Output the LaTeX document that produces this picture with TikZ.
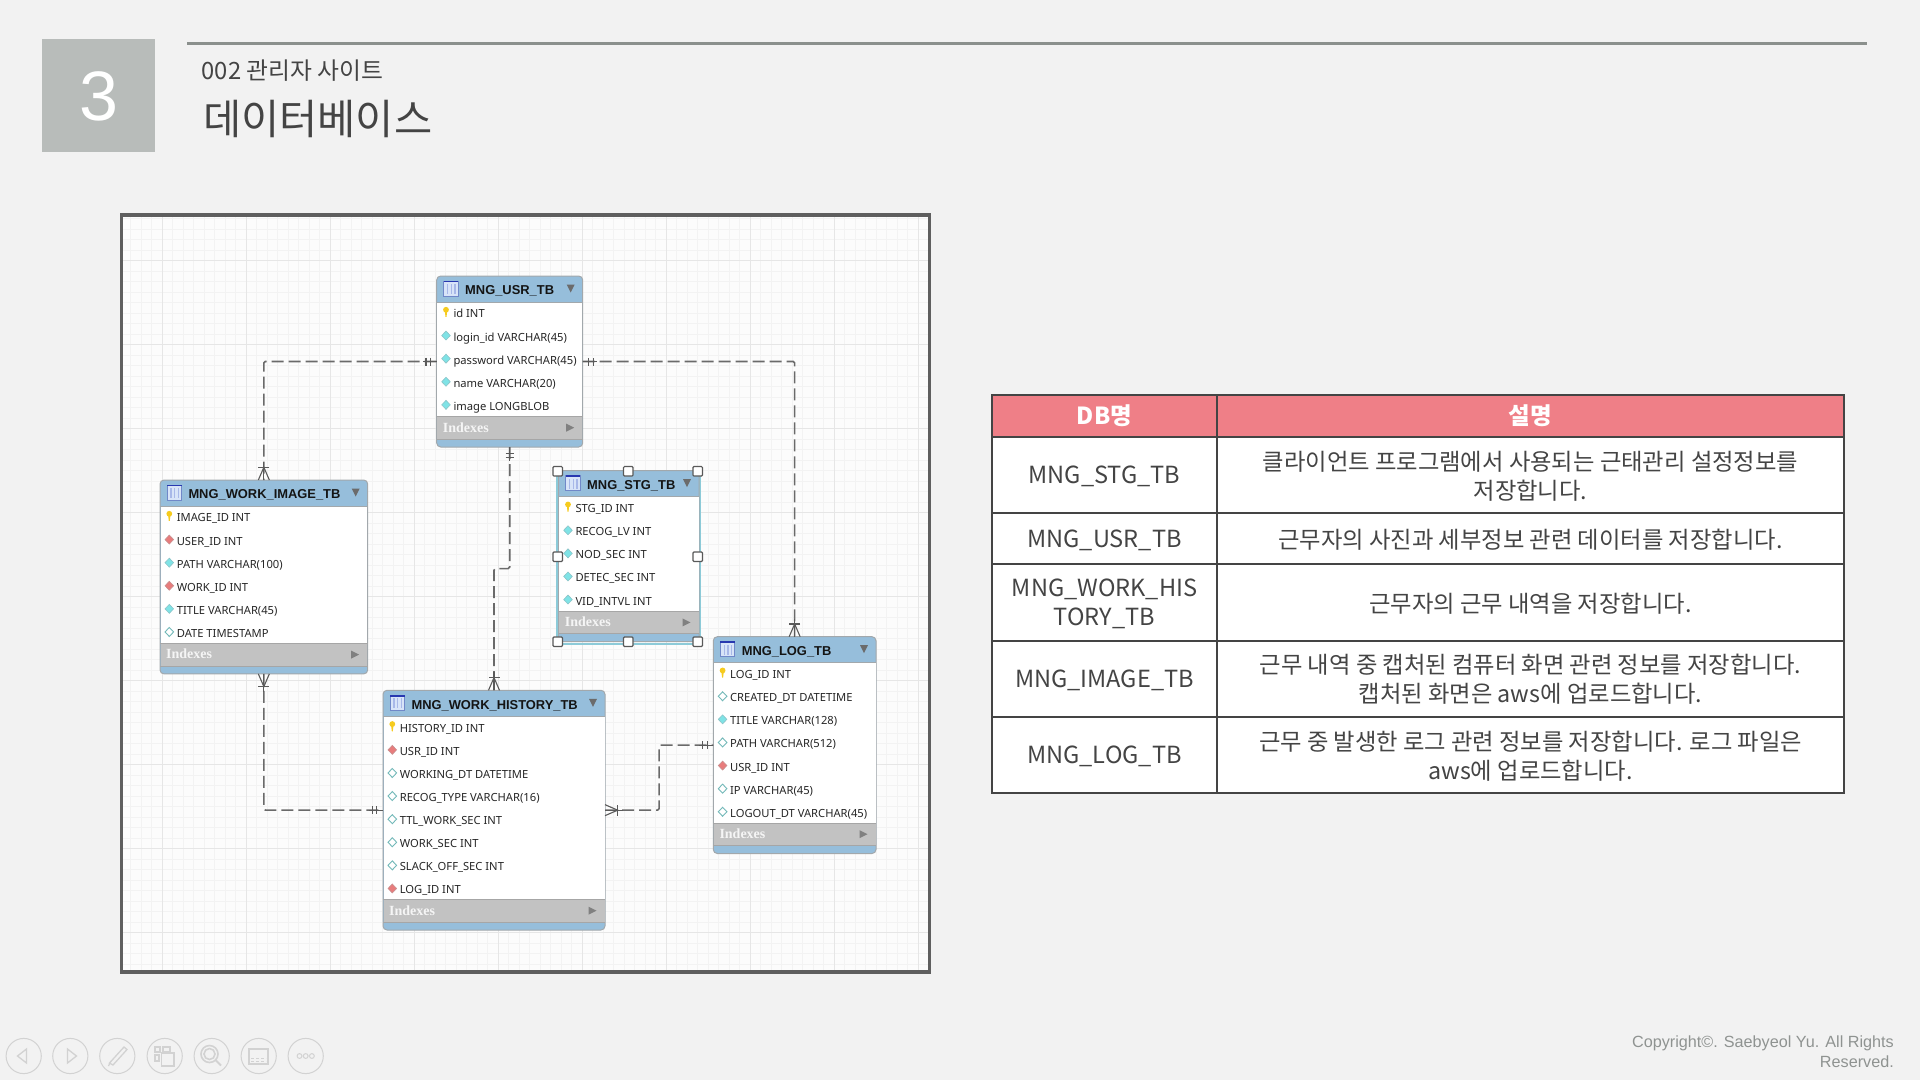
\documentclass[tikz,border=0pt]{standalone}
\usepackage{fontspec}
\setmainfont{Liberation Sans}
\newfontfamily\krf{Noto Sans CJK KR}
\newfontfamily\erf{Noto Sans}
\newfontfamily\idxf{Liberation Serif}
\usetikzlibrary{calc}
\definecolor{pagebg}{HTML}{F2F2F2}
\definecolor{boxgray}{HTML}{B8BCBA}
\definecolor{rulegray}{HTML}{8B908D}
\definecolor{inktext}{HTML}{444444}
\definecolor{framecol}{HTML}{5F5F5F}
\definecolor{gridmaj}{HTML}{E6E6E6}
\definecolor{gridmin}{HTML}{F3F3F3}
\definecolor{canvasbg}{HTML}{FCFCFC}
\definecolor{erblue}{HTML}{96BEDB}
\definecolor{erborder}{HTML}{A2A8AC}
\definecolor{idxgray}{HTML}{C2C2C2}
\definecolor{connector}{HTML}{6A6A6A}
\definecolor{hdrpink}{HTML}{EF7F87}
\definecolor{tblline}{HTML}{444444}
\definecolor{navgray}{HTML}{D2D2D2}
\definecolor{copygray}{HTML}{8F9391}
\definecolor{selcyan}{HTML}{8CCAD8}
\definecolor{dcyan}{HTML}{7FE3E6}
\definecolor{dcyanedge}{HTML}{8CC4C8}
\definecolor{dred}{HTML}{E87C7C}
\definecolor{drededge}{HTML}{C89090}
\definecolor{keygold}{HTML}{F6CB1E}
\definecolor{iconfill}{HTML}{D8E4F8}
\definecolor{iconstripe}{HTML}{A8B8E8}
\definecolor{iconedge}{HTML}{7088C8}
\definecolor{icontop}{HTML}{2838B0}
\tikzset{
  tablebox/.style={draw=erborder,line width=1pt,fill=erblue,rounded corners=4pt,inner sep=0pt,outer sep=0pt},
  rowtext/.style={anchor=base west,inner sep=0pt,font=\erf\fontsize{11.2}{13}\selectfont,text=black!85},
  titletext/.style={anchor=base west,inner sep=0pt,font=\bfseries\fontsize{12.9}{15}\selectfont,text=black!92},
  idxtext/.style={anchor=base west,inner sep=0pt,font=\idxf\bfseries\fontsize{14}{16}\selectfont,text=white!96!black},
  relation/.style={draw=connector,line width=1.6pt,dash pattern=on 12pt off 5pt,rounded corners=1.5pt},
  notation/.style={draw=connector!85!black,line width=1.1pt},
  handlebox/.style={draw=black!65,line width=1.2pt,fill=white,rounded corners=1pt,minimum size=9.5pt,inner sep=0pt},
  hcell/.style={fill=hdrpink,draw=tblline,line width=2pt,inner sep=0pt,outer sep=0pt},
  bcell/.style={fill=white,draw=tblline,line width=2pt,inner sep=0pt,outer sep=0pt},
  hcelltext/.style={align=center,inner sep=0pt,text=white,font=\krf\bfseries\fontsize{23.5}{29}\selectfont},
  namecell/.style={align=center,inner sep=0pt,text=inktext,yshift=-1.5pt,font=\krf\fontsize{23.6}{29}\selectfont},
  desccell/.style={align=center,inner sep=0pt,text=inktext,yshift=-.8pt,font=\krf\fontsize{23.3}{29}\selectfont},
  navring/.style={draw=navgray,line width=1pt},
  navmark/.style={draw=navgray,line width=1.3pt},
  pics/crowfoot/.style={code={
    \draw[notation] (0,5.5) -- (12.7,0) -- (0,-5.5);
    \draw[notation] (12.7,5.5) -- (12.7,-5.5);
    \draw[notation] (0,0) -- (18,0);}},
  pics/onebar/.style={code={
    \draw[notation] (6.2,4) -- (6.2,-4);
    \draw[notation] (10.7,4) -- (10.7,-4);
    \draw[notation] (0,0) -- (14,0);}},
}
% name, left, top, right, title, number of rows, rows
\newcommand{\ertable}[7]{%
  \pgfmathsetmacro{\hb}{#3+26}%
  \pgfmathsetmacro{\rb}{\hb+#6*22.9}%
  \pgfmathsetmacro{\ib}{\rb+22.5}%
  \pgfmathsetmacro{\bb}{\ib+8}%
  \pgfmathsetmacro{\cx}{(#2+#4)/2}%
  \pgfmathsetmacro{\cy}{(#3+\bb)/2}%
  \pgfmathsetmacro{\ww}{#4-#2}%
  \pgfmathsetmacro{\hh}{\bb-#3}%
  \node[tablebox,minimum width=\ww pt,minimum height=\hh pt] (#1) at (\cx,\cy) {};
  \fill[white] (#2+.5,\hb) rectangle (#4-.5,\rb);
  \fill[idxgray] (#2+.5,\rb) rectangle (#4-.5,\ib);
  \draw[erborder,line width=.8pt] (#2,\hb) -- (#4,\hb);
  \draw[black!35,line width=.6pt] (#2,\rb) -- (#4,\rb) (#2,\ib) -- (#4,\ib);
  % table icon
  \fill[iconfill] (#2+7,#3+5) rectangle (#2+21.5,#3+20);
  \foreach \vx in {10.4,14,17.6} {\fill[iconstripe] (#2+\vx,#3+8) rectangle (#2+\vx+1.2,#3+18);}
  \draw[iconedge,line width=.8pt] (#2+7,#3+5) rectangle (#2+21.5,#3+20);
  \fill[icontop] (#2+7,#3+4.6) rectangle (#2+21.5,#3+6.2);
  \node[titletext] (#1-title) at (#2+28.3,#3+18.7) {#5};
  \fill[black!58] (#4-16,#3+8.5) -- (#4-8,#3+8.5) -- (#4-12,#3+16.5) -- cycle;
  \foreach \kind/\txt [count=\i] in {#7} {%
    \pgfmathsetmacro{\ry}{\hb+(\i-.5)*23.1+.4}%
    \node[rowtext] (#1-r\i) at (#2+16.6,\ry+4) {\txt};
    \ifnum\kind=0
      \fill[keygold] (#2+9.3,\ry-4.2) circle (2.9);
      \fill[keygold] (#2+8,\ry-4) -- (#2+10.6,\ry-4) -- (#2+9.8,\ry+3) -- (#2+8.8,\ry+3) -- cycle;
    \else\ifnum\kind=1
      \draw[drededge,fill=dred,line width=.6pt] (#2+9.3,\ry-6) -- (#2+13.6,\ry-1.5) -- (#2+9.3,\ry+3) -- (#2+5,\ry-1.5) -- cycle;
    \else\ifnum\kind=2
      \draw[dcyanedge,fill=dcyan,line width=.6pt] (#2+9.3,\ry-6) -- (#2+13.6,\ry-1.5) -- (#2+9.3,\ry+3) -- (#2+5,\ry-1.5) -- cycle;
    \else
      \draw[teal!55!white,fill=white,line width=.9pt] (#2+9.3,\ry-6) -- (#2+13.6,\ry-1.5) -- (#2+9.3,\ry+3) -- (#2+5,\ry-1.5) -- cycle;
    \fi\fi\fi
  }
  \node[idxtext] (#1-idx) at (#2+6,\rb+15.5) {Indexes};
  \fill[black!50] (#4-16.5,\rb+7.2) -- (#4-8.5,\rb+11.2) -- (#4-16.5,\rb+15.2) -- cycle;
}
\begin{document}
\begin{tikzpicture}[x=1pt,y=-1pt]
\useasboundingbox (0,0) rectangle (1920,1080);
\fill[pagebg] (0,0) rectangle (1920,1080);
% heading
\node[fill=boxgray,inner sep=0pt,minimum width=113pt,minimum height=113pt] (numbox) at (98.5,95.3) {};
\node[inner sep=0pt,text=white,font=\fontsize{70}{70}\selectfont] (numtext) at (98.5,96) {3};
\coordinate (ruleL) at (187.3,43.3);
\coordinate (ruleR) at (1867,43.3);
\draw[rulegray,line width=3pt] (ruleL) -- (ruleR);
\node[anchor=west,inner sep=0pt,text=inktext,font=\krf\fontsize{23.8}{28}\selectfont] (subtitle) at (201.5,71) {002 관리자 사이트};
\node[anchor=west,inner sep=0pt,text=inktext,font=\krf\fontsize{41.5}{48}\selectfont] (maintitle) at (203,119) {데이터베이스};
% ER canvas
\fill[canvasbg] (121.5,215) rectangle (929.5,972);
\begin{scope}
\clip (121.5,215) rectangle (929.5,972);
\foreach \k in {-4,...,77} {\draw[gridmin,line width=.8pt] (162.3+\k*10.5,215) -- (162.3+\k*10.5,972);}
\foreach \k in {-4,...,72} {\draw[gridmin,line width=.8pt] (121.5,260.7+\k*10.5) -- (929.5,260.7+\k*10.5);}
\foreach \k in {0,...,9} {\draw[gridmaj,line width=.9pt] (162.3+\k*84,215) -- (162.3+\k*84,972);}
\foreach \k in {0,...,8} {\draw[gridmaj,line width=.9pt] (121.5,260.7+\k*84) -- (929.5,260.7+\k*84);}
\end{scope}
\draw[framecol,line width=3.4pt] (121.5,215) rectangle (929.5,972);
% ER tables
\ertable{usr}{436.7}{276}{582.7}{MNG\_USR\_TB}{5}{0/id INT,2/login\_id VARCHAR(45),2/password VARCHAR(45),2/name VARCHAR(20),2/image LONGBLOB}
\ertable{img}{160}{480}{367.7}{MNG\_WORK\_IMAGE\_TB}{6}{0/IMAGE\_ID INT,1/USER\_ID INT,2/PATH VARCHAR(100),1/WORK\_ID INT,2/TITLE VARCHAR(45),3/DATE TIMESTAMP}
\draw[selcyan,line width=2.4pt] (557.5,470.7) rectangle (700,644);
\ertable{stg}{558.7}{470.7}{699}{MNG\_STG\_TB}{5}{0/STG\_ID INT,2/RECOG\_LV INT,2/NOD\_SEC INT,2/DETEC\_SEC INT,2/VID\_INTVL INT}
\ertable{hist}{383}{690.3}{605}{MNG\_WORK\_HISTORY\_TB}{8}{0/HISTORY\_ID INT,1/USR\_ID INT,3/WORKING\_DT DATETIME,3/RECOG\_TYPE VARCHAR(16),3/TTL\_WORK\_SEC INT,3/WORK\_SEC INT,3/SLACK\_OFF\_SEC INT,1/LOG\_ID INT}
\ertable{logt}{713.3}{636.7}{876}{MNG\_LOG\_TB}{7}{0/LOG\_ID INT,3/CREATED\_DT DATETIME,2/TITLE VARCHAR(128),3/PATH VARCHAR(512),1/USR\_ID INT,3/IP VARCHAR(45),3/LOGOUT\_DT VARCHAR(45)}
% selection handles
\foreach \hx/\hy [count=\n] in {557.7/471.3,628.3/471.3,697.7/471.3,557.7/556.7,697.7/556.7,557.7/641.7,628.3/641.7,697.7/641.7} {
  \node[handlebox] (handle\n) at (\hx,\hy) {};
}
% relationships
\coordinate (jogA) at ($(usr.south)!.5!(hist.north)$);
\coordinate (jogB) at ($(hist.east)!.5!(logt.west)$);
\draw[relation] (usr.west) -| (img.north);
\draw[relation] (usr.east) -| (logt.north);
\draw[relation] (usr.south) |- (jogA) -| (hist.north);
\draw[relation] (img.south) |- (hist.west);
\draw[relation] (hist.east) -| (jogB) |- (logt.west);
\pic[rotate=180] at (usr.west) {onebar};
\pic[rotate=0] at (usr.east) {onebar};
\pic[rotate=-90] at (usr.south) {onebar};
\pic[rotate=180] at (hist.west) {onebar};
\pic[rotate=180] at (logt.west) {onebar};
\pic[rotate=90] at (img.north) {crowfoot};
\pic[rotate=-90] at (img.south) {crowfoot};
\pic[rotate=90] at (hist.north) {crowfoot};
\pic[rotate=0] at (hist.east) {crowfoot};
\pic[rotate=90] at (logt.north) {crowfoot};
% description table
\foreach \nm/\xa/\ya/\xb/\yb/\sty in {h1/992/394.5/1217/437.3/hcell,h2/1217/394.5/1844/437.3/hcell,
  a1/992/437.3/1217/513.3/bcell,b1/1217/437.3/1844/513.3/bcell,
  a2/992/513.3/1217/564.3/bcell,b2/1217/513.3/1844/564.3/bcell,
  a3/992/564.3/1217/640.7/bcell,b3/1217/564.3/1844/640.7/bcell,
  a4/992/640.7/1217/717/bcell,b4/1217/640.7/1844/717/bcell,
  a5/992/717/1217/793.3/bcell,b5/1217/717/1844/793.3/bcell} {
  \draw[\sty] (\xa,\ya) rectangle (\xb,\yb) coordinate[pos=.5] (c\nm);
}
\node[hcelltext] (th1) at (ch1) {DB명};
\node[hcelltext] (th2) at (ch2) {설명};
\node[namecell] (ta1) at (ca1) {MNG\_STG\_TB};
\node[namecell] (ta2) at (ca2) {MNG\_USR\_TB};
\node[namecell] (ta3) at (ca3) {MNG\_WORK\_HIS\\TORY\_TB};
\node[namecell] (ta4) at (ca4) {MNG\_IMAGE\_TB};
\node[namecell] (ta5) at (ca5) {MNG\_LOG\_TB};
\node[desccell] (tb1) at (cb1) {클라이언트 프로그램에서 사용되는 근태관리 설정정보를\\저장합니다.};
\node[desccell] (tb2) at (cb2) {근무자의 사진과 세부정보 관련 데이터를 저장합니다.};
\node[desccell] (tb3) at (cb3) {근무자의 근무 내역을 저장합니다.};
\node[desccell] (tb4) at (cb4) {근무 내역 중 캡처된 컴퓨터 화면 관련 정보를 저장합니다.\\캡처된 화면은 aws에 업로드합니다.};
\node[desccell] (tb5) at (cb5) {근무 중 발생한 로그 관련 정보를 저장합니다. 로그 파일은\\aws에 업로드합니다.};
% nav buttons
\foreach \cxx in {23.7,70.3,117.3,164.7,211.7,258.7,305.7} {\draw[navring] (\cxx,1056) circle (17.6);}
\draw[navmark] (26.5,1049) -- (17.5,1056) -- (26.5,1063) -- cycle;
\draw[navmark] (67.5,1049) -- (76.5,1056) -- (67.5,1063) -- cycle;
\draw[navmark] (124,1047) -- (127,1049.5) -- (113,1065) -- (109.5,1063) -- cycle (111,1061) -- (108.5,1066);
\draw[navmark,line width=1.6pt] (155,1047) rectangle (160,1052) (163,1047) rectangle (170,1052) (155,1055) rectangle (159,1061) (161.5,1053) rectangle (174,1066);
\draw[navmark,line width=1.6pt] (209.5,1054) circle (8.5) (209.5,1054) circle (5.5);
\draw[navmark,line width=2pt] (215.5,1060) -- (221,1065.5);
\draw[navmark,line width=1.6pt] (249,1049) rectangle (268,1064);
\draw[navmark,densely dashed,line width=.9pt] (251,1058) -- (266,1058) (251,1061) -- (266,1061);
\draw[navmark,line width=1pt] (299.5,1056) circle (2.4) (305.7,1056) circle (2.4) (311.9,1056) circle (2.4);
% copyright
\node[anchor=east,inner sep=0pt,text=copygray,font=\fontsize{16.2}{19}\selectfont] (copy1) at (1894,1042.8) {Copyright©. Saebyeol Yu. All Rights};
\node[anchor=east,inner sep=0pt,text=copygray,font=\fontsize{16.2}{19}\selectfont] (copy2) at (1894,1061.5) {Reserved.};
\end{tikzpicture}
\end{document}
